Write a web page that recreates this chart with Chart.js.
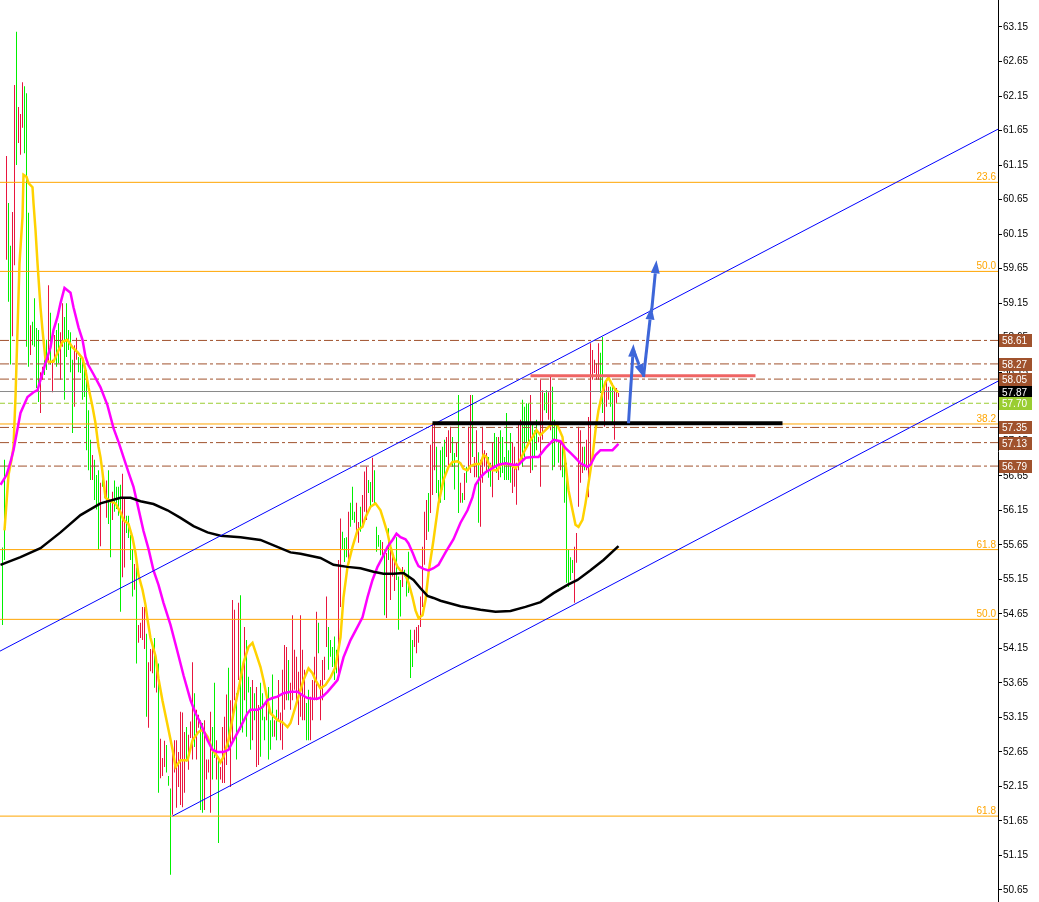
<!DOCTYPE html>
<html>
<head>
<meta charset="utf-8">
<script src="https://cdn.jsdelivr.net/npm/chart.js@4.4.1/dist/chart.umd.min.js"></script>
<style>
  html, body { margin: 0; padding: 0; background: #fff; }
  canvas { display: block; }
</style>
</head>
<body>
<canvas id="chart" width="1039" height="902"></canvas>
<script>
// bar highs / lows (one bar every index step)
const highs = [
  55.61, 56.88, 61.28, 60.60, 59.98, 60.47, 62.31, 63.08, 61.99, 61.89,
  62.35, 62.29, 62.19, 60.46, 58.83, 58.88, 59.22, 58.79, 58.76, 58.15,
  58.23, 58.33, 58.62, 59.41, 59.01, 58.33, 58.69, 58.76, 58.86, 58.73,
  59.15, 58.95, 59.15, 58.76, 58.73, 58.33, 58.54, 58.65, 58.37, 58.36,
  58.33, 58.18, 58.18, 57.60, 57.17, 56.95, 56.88, 56.66, 56.73, 56.55,
  56.60, 56.55, 56.58, 56.73, 56.29, 56.42, 56.58, 56.49, 56.49, 56.52,
  56.68, 56.33, 56.07, 56.07, 55.79, 55.59, 55.37, 55.32, 54.49, 54.52,
  54.75, 54.75, 54.36, 53.95, 54.14, 54.17, 54.30, 53.93, 53.93, 52.84,
  52.56, 52.81, 52.75, 52.30, 52.12, 52.64, 52.82, 52.82, 52.65, 53.23,
  53.22, 52.94, 53.01, 52.90, 53.09, 53.95, 53.50, 53.26, 53.19, 53.11,
  53.07, 53.11, 52.54, 52.54, 53.23, 53.01, 53.65, 52.82, 52.58, 52.43,
  53.01, 53.16, 53.48, 53.87, 53.40, 54.85, 54.71, 53.50, 54.81, 54.92,
  53.84, 54.46, 54.27, 53.74, 53.59, 53.69, 53.50, 53.59, 53.33, 53.65,
  53.50, 53.16, 53.50, 53.59, 53.11, 53.77, 53.11, 53.26, 53.69, 53.22,
  53.84, 54.20, 54.17, 53.98, 53.65, 54.63, 54.13, 54.03, 53.81, 54.63,
  54.13, 53.84, 53.36, 53.55, 53.45, 53.69, 54.03, 54.68, 54.52, 53.69,
  53.98, 54.03, 54.90, 54.46, 54.27, 54.17, 54.32, 54.13, 55.43, 56.03,
  55.84, 55.75, 55.76, 56.13, 56.26, 56.49, 56.13, 56.26, 55.98, 56.20,
  56.37, 56.71, 56.78, 56.59, 56.56, 56.91, 56.73, 55.91, 55.79, 55.72,
  55.69, 55.58, 55.53, 55.89, 55.68, 55.53, 55.43, 55.76, 55.19, 55.14,
  55.33, 55.29, 55.14, 55.55, 54.42, 54.27, 54.42, 54.46, 54.49, 54.90,
  55.62, 56.13, 56.30, 56.40, 57.10, 57.41, 57.41, 57.07, 56.59, 57.02,
  57.07, 57.17, 57.21, 57.31, 57.36, 57.21, 56.98, 57.13, 57.82, 56.55,
  56.40, 56.69, 56.78, 57.36, 57.82, 57.82, 56.92, 57.31, 56.99, 56.88,
  57.36, 57.02, 56.98, 56.92, 56.84, 57.13, 57.27, 57.21, 57.21, 57.31,
  57.21, 56.92, 57.56, 57.02, 57.27, 57.13, 57.07, 56.84, 57.41, 57.46,
  57.75, 57.65, 57.70, 57.70, 57.82, 57.41, 57.31, 57.46, 57.21, 58.04,
  57.89, 57.85, 57.89, 57.86, 58.08, 57.94, 57.46, 57.41, 57.13, 57.13,
  57.17, 57.02, 56.84, 55.58, 55.47, 55.43, 55.62, 55.82, 57.36, 57.31,
  57.07, 57.07, 57.17, 57.50, 58.57, 58.47, 58.33, 58.28, 58.57, 58.43,
  58.66, 57.99, 58.04, 57.94, 57.94, 57.99, 57.89, 57.92, 57.85
];
const lows = [
  54.49, 55.43, 59.78, 59.17, 58.26, 58.67, 59.70, 61.15, 61.47, 61.30,
  61.69, 61.32, 58.52, 58.23, 58.40, 58.54, 58.52, 57.92, 57.72, 57.56,
  58.04, 58.11, 58.18, 58.28, 58.26, 57.86, 58.30, 58.23, 58.28, 58.04,
  58.52, 57.75, 58.37, 58.47, 58.15, 57.27, 57.65, 58.33, 58.15, 58.14,
  57.75, 57.79, 57.02, 56.73, 56.59, 56.59, 56.30, 56.16, 55.58, 55.63,
  56.49, 56.33, 56.04, 55.95, 55.47, 56.01, 56.13, 56.17, 56.07, 54.68,
  55.18, 55.32, 55.82, 55.75, 55.43, 54.90, 55.00, 53.93, 54.23, 54.30,
  54.27, 54.14, 53.16, 53.00, 53.82, 53.79, 53.58, 53.51, 52.06, 52.27,
  52.30, 52.43, 52.35, 52.16, 50.87, 51.74, 52.35, 51.84, 52.14, 51.88,
  51.85, 52.06, 52.51, 52.39, 52.85, 52.54, 52.72, 52.54, 53.00, 51.81,
  51.77, 51.81, 52.25, 52.35, 51.77, 52.25, 52.56, 52.25, 51.33, 52.25,
  52.20, 52.20, 52.46, 52.68, 52.14, 52.82, 53.40, 52.54, 53.69, 52.97,
  52.93, 53.40, 52.87, 53.51, 52.68, 52.82, 53.11, 52.43, 52.46, 52.58,
  53.11, 52.82, 53.11, 52.54, 52.68, 52.87, 52.87, 52.82, 53.11, 52.82,
  52.68, 53.26, 53.40, 53.40, 53.26, 53.40, 53.55, 53.40, 53.04, 53.16,
  53.11, 53.11, 52.82, 52.82, 52.82, 53.11, 53.40, 53.40, 54.08, 53.11,
  53.40, 53.69, 54.17, 53.84, 54.03, 53.88, 53.69, 53.79, 53.69, 54.75,
  55.58, 55.40, 55.47, 55.43, 55.91, 56.01, 55.97, 55.82, 55.68, 55.84,
  55.91, 56.13, 56.01, 56.40, 56.20, 56.27, 56.23, 55.55, 55.62, 55.50,
  55.47, 54.63, 54.59, 55.43, 54.85, 55.19, 54.98, 55.14, 54.42, 54.61,
  55.04, 55.19, 54.90, 54.95, 53.72, 53.88, 54.17, 54.08, 54.23, 54.46,
  54.75, 55.36, 55.72, 55.84, 56.11, 56.37, 56.73, 56.40, 56.30, 56.26,
  56.45, 56.30, 56.92, 56.78, 56.98, 56.78, 56.45, 56.92, 56.11, 56.26,
  56.26, 56.30, 56.55, 56.73, 56.69, 56.92, 56.63, 56.63, 55.97, 55.91,
  56.55, 56.78, 56.69, 56.62, 56.49, 56.34, 56.78, 56.69, 56.59, 56.63,
  56.69, 56.59, 56.59, 56.59, 56.55, 56.40, 56.49, 56.23, 56.73, 56.84,
  56.78, 56.92, 57.13, 57.13, 56.69, 56.73, 56.92, 57.02, 57.13, 56.49,
  57.17, 57.60, 57.56, 57.46, 57.31, 56.73, 56.78, 57.13, 56.84, 56.73,
  56.63, 56.26, 55.10, 55.04, 55.14, 55.24, 54.81, 55.39, 56.20, 56.55,
  56.69, 56.73, 56.73, 56.34, 56.69, 58.04, 58.14, 58.04, 58.04, 57.85,
  57.56, 57.36, 57.65, 57.75, 57.65, 57.41, 57.17, 57.70, 57.79
];
// 1 = up bar (green), 0 = down bar (red)
const upBar = [
  1,1,0,1,1,0,0,1,0,0, 0,1,1,1,0,1,1,1,1,0, 0,1,1,0,1,0,0,1,1,0, 0,1,1,1,1,1,0,0,1,1,
  1,1,1,1,1,0,1,1,1,0, 1,1,0,1,1,0,1,1,1,1, 0,0,1,1,1,1,0,1,0,0, 0,0,1,0,0,0,1,0,1,0,
  0,0,1,1,1,0,0,0,0,0, 0,0,1,0,0,0,1,0,0,1, 1,0,0,0,0,1,1,0,1,0, 0,0,0,1,0,0,0,1,0,1,
  1,0,1,1,1,0,1,0,0,1, 1,1,0,1,1,1,0,1,0,0, 0,0,0,1,0,0,0,0,0,0, 0,0,1,1,0,0,0,0,1,0,
  0,0,0,1,1,1,1,1,0,0, 1,1,1,0,1,1,1,0,0,1, 0,0,0,1,1,0,1,1,1,1, 0,1,0,1,0,0,0,1,1,1,
  0,1,1,1,1,1,0,0,0,0, 0,0,0,1,0,0,0,1,1,1, 1,1,0,0,0,1,1,0,1,0, 1,0,1,0,0,1,0,0,1,0,
  0,0,0,1,1,0,1,1,0,1, 1,1,1,1,1,0,0,0,0,0, 1,1,1,1,0,1,1,1,0,0, 0,1,1,0,0,1,1,1,1,0,
  1,1,1,1,1,1,0,0,0,0, 0,1,0,0,0,0,0,0,0,1, 1,0,0,0,1,1,0,0,0
];

// moving averages as [bar, price]
const fastMA = [
  [2,55.86],[4,56.66],[5.5,56.88],[6.5,57.07],[7.5,57.79],[8.5,58.76],[9.5,59.73],[11,60.40],[11.5,61.01],[13,60.98],
  [14,60.89],[16,60.83],[16.5,60.60],[17.5,60.21],[18.5,59.73],[20,59.09],[21,58.76],[22.5,58.33],[24,58.30],[26.5,58.30],
  [28.5,58.43],[31,58.59],[33.5,58.62],[36,58.51],[38.5,58.44],[41,58.35],[42.5,58.18],[44,57.93],[46,57.65],[47.5,57.41],
  [49,57.07],[50,56.92],[51,56.70],[52.5,56.33],[55,56.28],[57.5,56.25],[60,56.12],[61.5,56.01],[64,55.95],[66,55.75],
  [67.5,55.53],[69,55.21],[71,55.00],[72.5,54.78],[73.5,54.57],[75,54.30],[77.5,54.04],[79,53.71],[81,53.39],[82.5,53.18],
  [84,52.97],[86,52.69],[87.5,52.43],[90,52.53],[93.5,52.53],[96,52.82],[99,52.94],[101,52.97],[103.5,52.87],[106,52.68],
  [108.5,52.58],[110,52.50],[111.5,52.58],[114,52.82],[116.5,53.21],[119,53.55],[121.5,53.94],[124,54.17],[126,54.23],[127.5,54.10],
  [130,53.88],[131.5,53.69],[133.5,53.40],[135,53.21],[138.5,53.11],[141,53.08],[143.5,53.01],[145,53.07],[146.5,53.21],[149,53.45],
  [151.5,53.69],[154,53.86],[156,53.79],[157.5,53.69],[160,53.57],[162.5,53.62],[165,53.73],[167.5,53.88],[170,54.31],[171.5,54.89],
  [173.5,55.33],[176,55.62],[178.5,55.86],[181,55.91],[182.5,56.05],[185,56.20],[187.5,56.25],[190,56.15],[191.5,56.01],[193.5,55.82],
  [195,55.62],[196.5,55.47],[198.5,55.33],[201,55.24],[202.5,55.21],[204,55.10],[206,54.89],[207.5,54.70],[209,54.59],[211,54.63],
  [212.5,54.85],[214,55.24],[216.5,55.72],[219,56.25],[221.5,56.59],[224,56.78],[226,56.85],[228.5,56.86],[230,56.83],[231.5,56.75],
  [233.5,56.73],[235,56.79],[237.5,56.82],[240,56.82],[241.5,56.95],[243,56.92],[244,56.83],[246,56.73],[248.5,56.73],[250,56.81],
  [252.5,56.82],[255,56.82],[257.5,56.76],[259,56.82],[261.5,56.98],[264,57.12],[266,57.21],[268,57.31],[270,57.24],[273.5,57.34],
  [276,57.41],[278.5,57.38],[281,57.21],[282.5,56.83],[284,56.44],[286,56.15],[287.5,55.94],[289,55.91],[291,56.01],[292.5,56.25],
  [294,56.54],[296,56.92],[297.5,57.31],[299,57.60],[301,57.86],[302.5,58.01],[304,58.07],[306,57.96],[307.5,57.89],[309,57.86]
];
const midMA = [
  [0,56.52],[3,56.66],[5,56.85],[6.5,57.02],[10,57.56],[13.5,57.79],[16.5,57.86],[18.5,57.89],[20,58.04],[22.5,58.28],
  [25,58.51],[26.5,58.76],[28.5,58.95],[30,59.15],[32,59.37],[35,59.30],[36.5,59.09],[39,58.80],[41,58.62],[42.5,58.37],
  [44,58.25],[46.5,58.12],[50,57.93],[53.5,57.67],[56.5,57.34],[59,57.14],[61.5,56.92],[64,56.70],[66.5,56.49],[69,56.17],
  [71.5,55.85],[74,55.59],[76.5,55.28],[79,55.07],[81.5,54.81],[85,54.49],[88.5,54.10],[91.5,53.76],[95,53.40],[97.5,53.21],
  [100,53.07],[103.5,52.82],[106,52.68],[108.5,52.65],[111.5,52.65],[114,52.68],[116.5,52.82],[120,53.01],[123.5,53.21],[125,53.26],
  [128.5,53.26],[131,53.30],[133.5,53.40],[136,53.43],[138.5,53.45],[141.5,53.50],[145,53.52],[148.5,53.52],[151,53.47],[153.5,53.43],
  [156,53.42],[158.5,53.42],[161,53.45],[163.5,53.52],[165,53.57],[168.5,53.69],[171.5,54.02],[175,54.27],[178.5,54.46],[181,54.60],
  [183.5,54.89],[186,55.14],[188.5,55.33],[191,55.47],[193.5,55.62],[196,55.72],[198,55.81],[200,55.76],[202.5,55.73],[204,55.67],
  [206,55.54],[207.5,55.43],[209,55.34],[211.5,55.30],[214,55.28],[216.5,55.31],[219,55.36],[222.5,55.54],[226.5,55.73],[230,55.97],
  [233.5,56.15],[236,56.34],[237.5,56.52],[240,56.63],[242.5,56.70],[246,56.76],[249,56.81],[252.5,56.83],[256,56.81],[259,56.81],
  [262.5,56.91],[266,56.92],[269,56.92],[272.5,57.05],[276.5,57.17],[280,57.15],[282.5,57.05],[285,56.98],[287.5,56.91],[290,56.83],
  [293.5,56.78],[295,56.81],[297.5,56.95],[300,57.02],[303.5,57.02],[306,57.02],[309,57.11]
];
const slowMA = [
  [0,55.36],[10,55.47],[20,55.60],[30,55.83],[40,56.08],[50,56.25],[60,56.33],[65,56.33],[70,56.28],[76.5,56.24],
  [83.5,56.15],[90,56.04],[96.5,55.92],[103.5,55.83],[110,55.78],[120,55.76],[130,55.72],[137.5,55.63],[145,55.54],[150,55.52],
  [160,55.46],[166.5,55.36],[173.5,55.33],[180,55.31],[186.5,55.26],[191.5,55.23],[196.5,55.23],[201.5,55.24],[206.5,55.14],[210,55.02],
  [213.5,54.91],[216.5,54.88],[220,54.84],[230,54.76],[240,54.71],[247.5,54.68],[255,54.69],[262.5,54.75],[270,54.82],[276.5,54.95],
  [283.5,55.07],[288.5,55.14],[295,55.28],[301.5,55.43],[309,55.63]
];

// horizontal levels
const fibLevels = [60.90, 59.61, 57.40, 55.58, 54.57, 51.72];
const fibNames = ['23.6', '50.0', '38.2', '61.8', '50.0', '61.8'];
const boxLevels = [58.61, 58.27, 58.05, 57.35, 57.13, 56.79];
const bidPrice = 57.87;
const askPrice = 57.70;
const priceTicks = [50.65, 51.15, 51.65, 52.15, 52.65, 53.15, 53.65, 54.15, 54.65, 55.15, 55.65, 56.15, 56.65,
  57.15, 57.65, 58.15, 58.65, 59.15, 59.65, 60.15, 60.65, 61.15, 61.65, 62.15, 62.65, 63.15];

// trend drawings: [bar1, price1, bar2, price2]
const channelLines = [[-0.25, 54.11, 498.75, 61.67], [86, 51.72, 498.75, 58.02]];
const resistSeg = [265, 58.10, 377.5, 58.10];
const supportSeg = [216, 57.41, 391, 57.41];
const arrowSegs = [[314, 57.41, 316.5, 58.56], [316.5, 58.47, 321.5, 58.08], [321.5, 58.08, 325.5, 59.10], [325.5, 59.02, 328, 59.77]];

const X_MIN = -0.25, X_MAX = 498.75;
const FONT = '10px "Liberation Sans", Arial, sans-serif';

function lineSet(points, color, width, order, dash) {
  return {
    type: 'line',
    data: points.map(p => ({ x: p[0], y: p[1] })),
    borderColor: color,
    borderWidth: width,
    borderDash: dash || [],
    pointRadius: 0,
    fill: false,
    tension: 0,
    order: order
  };
}
function hline(v, color, dash) {
  return lineSet([[X_MIN, v], [X_MAX, v]], color, 1, 8, dash);
}

const datasets = [];
datasets.push({
  type: 'bar',
  data: highs.map((h, i) => ({ x: i + 1, y: [lows[i], h] })),
  backgroundColor: upBar.map(u => u ? '#00F000' : '#E8163F'),
  borderWidth: 0,
  barThickness: 1,
  inflateAmount: 0,
  grouped: false,
  order: 10
});
fibLevels.forEach(v => datasets.push(hline(v, '#FFA500')));
boxLevels.forEach(v => datasets.push(hline(v, '#A0522D', [9, 3, 3, 3])));
datasets.push(hline(bidPrice, '#8A8A8A'));
datasets.push(hline(askPrice, '#9ACD32', [5, 3]));
datasets.push(lineSet(slowMA, '#000000', 2.5, 3));
datasets.push(lineSet(midMA, '#FF00FF', 2.5, 3));
datasets.push(lineSet(fastMA, '#FFD200', 2.5, 3));
channelLines.forEach(c => datasets.push(lineSet([[c[0], c[1]], [c[2], c[3]]], '#0000FF', 1, 2)));
datasets.push(lineSet([[resistSeg[0], resistSeg[1]], [resistSeg[2], resistSeg[3]]], '#EF6464', 3, 1));
datasets.push(lineSet([[supportSeg[0], supportSeg[1]], [supportSeg[2], supportSeg[3]]], '#000000', 4, 1));

const overlay = {
  id: 'overlay',
  afterDraw(chart) {
    const { ctx, chartArea } = chart;
    const xs = chart.scales.x, ys = chart.scales.y;
    ctx.save();
    ctx.font = FONT;

    // fibo level captions
    ctx.fillStyle = '#FFA500';
    ctx.textAlign = 'right';
    ctx.textBaseline = 'alphabetic';
    fibLevels.forEach((v, i) => {
      ctx.fillText(fibNames[i], chartArea.right - 2, Math.round(ys.getPixelForValue(v)) - 2);
    });

    // price boxes on the axis
    function box(v, bg) {
      const py = Math.round(ys.getPixelForValue(v));
      ctx.fillStyle = bg;
      ctx.fillRect(chartArea.right + 1, py - 6, 33, 13);
      ctx.fillStyle = '#ffffff';
      ctx.textAlign = 'left';
      ctx.textBaseline = 'middle';
      ctx.fillText(v.toFixed(2), chartArea.right + 4, py + 1);
    }
    boxLevels.forEach(v => box(v, '#A0522D'));
    box(bidPrice, '#000000');
    box(askPrice, '#9ACD32');

    // blue arrows
    ctx.strokeStyle = '#3D66D9';
    ctx.fillStyle = '#3D66D9';
    ctx.lineWidth = 3;
    arrowSegs.forEach(s => {
      const x1 = xs.getPixelForValue(s[0]), y1 = ys.getPixelForValue(s[1]);
      const x2 = xs.getPixelForValue(s[2]), y2 = ys.getPixelForValue(s[3]);
      const a = Math.atan2(y2 - y1, x2 - x1);
      const head = 13, half = 4.5;
      const bx = x2 - head * Math.cos(a), by = y2 - head * Math.sin(a);
      ctx.beginPath();
      ctx.moveTo(x1, y1);
      ctx.lineTo(bx, by);
      ctx.stroke();
      ctx.beginPath();
      ctx.moveTo(x2, y2);
      ctx.lineTo(bx + half * Math.sin(a), by - half * Math.cos(a));
      ctx.lineTo(bx - half * Math.sin(a), by + half * Math.cos(a));
      ctx.closePath();
      ctx.fill();
    });
    ctx.restore();
  }
};

new Chart(document.getElementById('chart'), {
  type: 'bar',
  data: { datasets: datasets },
  options: {
    responsive: false,
    animation: false,
    events: [],
    layout: { padding: 0 },
    plugins: { legend: { display: false }, tooltip: { enabled: false } },
    scales: {
      x: { type: 'linear', min: X_MIN, max: X_MAX, display: false, offset: false, bounds: 'data' },
      y: {
        position: 'right',
        min: 50.476,
        max: 63.541,
        bounds: 'data',
        beginAtZero: false,
        afterBuildTicks: s => { s.ticks = priceTicks.map(v => ({ value: v })); },
        afterFit: s => { s.width = 41; s.paddingTop = 0; s.paddingBottom = 0; },
        border: { display: true, color: '#000000', width: 1 },
        grid: { drawOnChartArea: false, drawTicks: true, tickLength: 4, color: '#000000' },
        ticks: {
          autoSkip: false,
          color: '#000000',
          padding: 1,
          font: { family: '"Liberation Sans", Arial, sans-serif', size: 10 },
          callback: v => Number(v).toFixed(2)
        }
      }
    }
  },
  plugins: [overlay]
});
</script>
</body>
</html>
